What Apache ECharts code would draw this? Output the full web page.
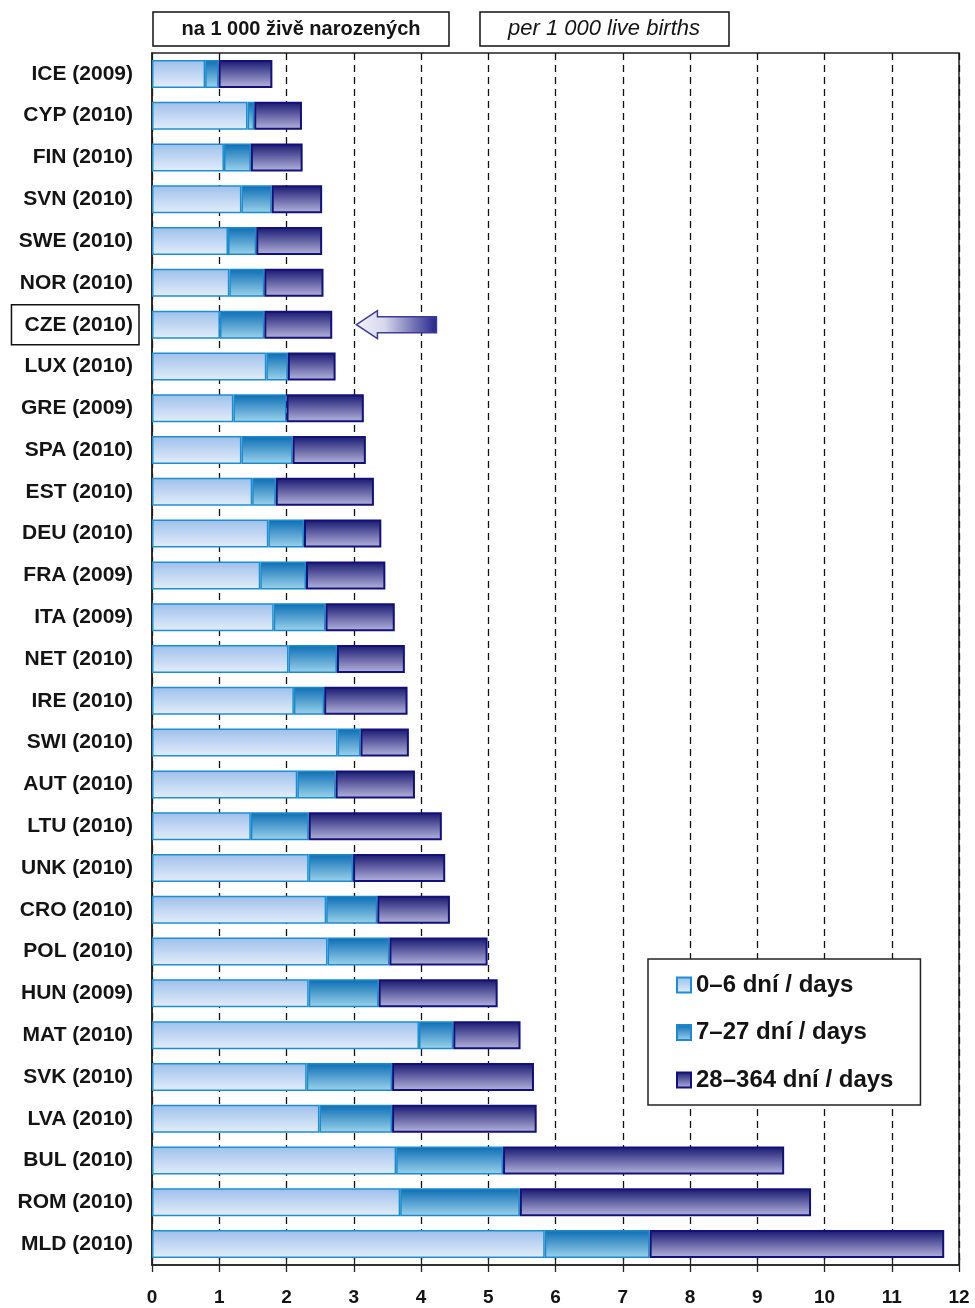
<!DOCTYPE html>
<html>
<head>
<meta charset="utf-8">
<script src="https://cdn.jsdelivr.net/npm/echarts@6/dist/echarts.min.js"></script>
<style>
html,body{margin:0;padding:0;background:#fff;}
#c{width:975px;height:1308px;}
</style>
</head>
<body>
<div id="c"></div>
<script>
const categories = ['ICE (2009)','CYP (2010)','FIN (2010)','SVN (2010)','SWE (2010)','NOR (2010)','CZE (2010)','LUX (2010)','GRE (2009)','SPA (2010)','EST (2010)','DEU (2010)','FRA (2009)','ITA (2009)','NET (2010)','IRE (2010)','SWI (2010)','AUT (2010)','LTU (2010)','UNK (2010)','CRO (2010)','POL (2010)','HUN (2009)','MAT (2010)','SVK (2010)','LVA (2010)','BUL (2010)','ROM (2010)','MLD (2010)'];
const days0to6   = [0.79,1.42,1.07,1.33,1.13,1.15,1.01,1.70,1.21,1.33,1.49,1.73,1.61,1.81,2.03,2.11,2.76,2.16,1.47,2.33,2.59,2.61,2.33,3.97,2.30,2.49,3.63,3.69,5.84];
const days7to27  = [0.20,0.10,0.40,0.45,0.42,0.52,0.66,0.32,0.79,0.76,0.35,0.53,0.68,0.77,0.72,0.45,0.34,0.57,0.86,0.66,0.76,0.92,1.04,0.51,1.27,1.08,1.59,1.78,1.56];
const days28to364= [0.80,0.71,0.77,0.75,0.98,0.88,1.01,0.71,1.15,1.09,1.46,1.15,1.18,1.03,1.01,1.24,0.72,1.18,1.98,1.37,1.08,1.46,1.77,1.00,2.11,2.15,4.18,4.33,4.38];
const seriesNames = ['0\u20136 dní / days','7\u201327 dní / days','28\u2013364 dní / days'];
const xTicks = [0,1,2,3,4,5,6,7,8,9,10,11,12];
const highlighted = 'CZE (2010)';

const FONT = "'Liberation Sans', Arial, sans-serif";
const TXT = '#141414';

function grad(top, bottom){
  return {type:'linear',x:0,y:0,x2:0,y2:1,colorStops:[{offset:0,color:top},{offset:1,color:bottom}]};
}
const styles = [
  {color: grad('#9dbfeb','#e4eefa'), borderColor:'#1c8fd4', borderWidth:1.5},
  {color: grad('#0a6cb4','#9dd4ec'), borderColor:'#1a8acc', borderWidth:1.5},
  {color: grad('#16166f','#b8b6de'), borderColor:'#11117c', borderWidth:2}
];
const dataSets = [days0to6, days7to27, days28to364];

const chart = echarts.init(document.getElementById('c'), null, {renderer:'canvas'});
const option = {
  animation:false,
  backgroundColor:'#fff',
  textStyle:{fontFamily:FONT},
  grid:{left:152, right:16, top:53, bottom:43, show:true, borderColor:'#222', borderWidth:1.5, backgroundColor:'transparent'},
  xAxis:[{
    type:'value', min:0, max:12, interval:1, position:'bottom',
    axisLine:{show:true, lineStyle:{color:'#222', width:1.5}},
    axisTick:{show:true, inside:false, length:7, lineStyle:{color:'#222', width:1.3}},
    axisLabel:{margin:23, fontFamily:FONT, fontWeight:'bold', fontSize:19, color:TXT,
      formatter: v => xTicks.includes(v) ? String(v) : ''},
    splitLine:{show:true, lineStyle:{color:'#111', width:1.3, type:[7,5]}}
  },{
    type:'value', min:0, max:12, interval:1, position:'bottom',
    axisLine:{show:false},
    axisTick:{show:true, inside:true, length:7, lineStyle:{color:'#222', width:1.3}},
    axisLabel:{show:false}, splitLine:{show:false}
  }],
  yAxis:{
    type:'category', data:categories, inverse:true,
    axisLine:{show:true, lineStyle:{color:'#222', width:1.5}},
    axisTick:{show:false},
    axisLabel:{
      margin:13,
      formatter: v => (v === highlighted ? '{box|' : '{n|') + v + '}',
      rich:{
        n:{fontFamily:FONT, fontWeight:'bold', fontSize:21, color:TXT, padding:[0,6,0,0]},
        box:{fontFamily:FONT, fontWeight:'bold', fontSize:21, color:TXT, padding:[10,6,9,13], borderColor:'#111', borderWidth:1.5, lineHeight:22}
      }
    }
  },
  legend:{
    show:true, orient:'vertical', left:648, top:959,
    padding:[14,27,13,28], itemGap:23.5, itemWidth:14, itemHeight:15,
    borderColor:'#222', borderWidth:1.5, backgroundColor:'#fff',
    data: seriesNames,
    textStyle:{fontFamily:FONT, fontWeight:'bold', fontSize:24, color:TXT, lineHeight:22},
    icon:'rect'
  },
  series: seriesNames.map((name,i)=>({
    name, type:'bar', stack:'total', barWidth:28, xAxisIndex:0,
    itemStyle: styles[i],
    data: dataSets[i]
  }))
};
chart.setOption(option);

// Annotations: header boxes and arrow pointing at CZE bar
const ci = categories.indexOf(highlighted);
const tip = chart.convertToPixel({gridIndex:0}, [3.04, ci]);
const tail = chart.convertToPixel({gridIndex:0}, [4.23, ci]);
const cy = tip[1];
const tx = tip[0], ex = tail[0];
chart.setOption({
  graphic:[
    {type:'rect', shape:{x:153, y:12, width:296, height:34}, style:{fill:'#fff', stroke:'#111', lineWidth:1.5}},
    {type:'text', x:301, y:29, style:{text:'na 1 000 živě narozených', align:'center', verticalAlign:'middle', fontFamily:FONT, fontWeight:'bold', fontSize:20, fill:TXT}},
    {type:'rect', shape:{x:480, y:12, width:249, height:34}, style:{fill:'#fff', stroke:'#111', lineWidth:1.5}},
    {type:'text', x:604, y:29, style:{text:'per 1 000 live births', align:'center', verticalAlign:'middle', fontFamily:FONT, fontStyle:'italic', fontSize:22, fill:TXT}},
    {type:'polygon', z:100,
      shape:{points:[[tx,cy],[tx+21,cy-14],[tx+21,cy-8],[ex,cy-8],[ex,cy+8],[tx+21,cy+8],[tx+21,cy+14]]},
      style:{fill:{type:'linear',x:0,y:0,x2:1,y2:0,colorStops:[{offset:0,color:'#f2f2f8'},{offset:0.35,color:'#d8d8ec'},{offset:1,color:'#24248a'}]}, stroke:'#3c3c98', lineWidth:1.5}}
  ]
});
</script>
</body>
</html>
